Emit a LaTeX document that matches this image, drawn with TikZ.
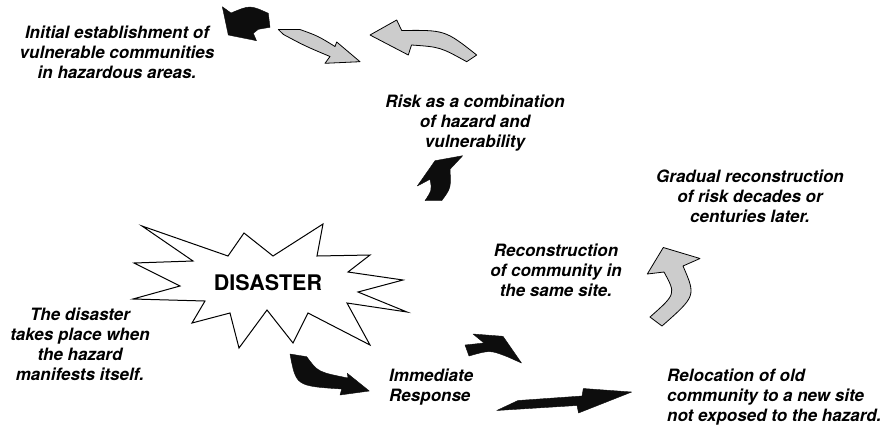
\documentclass[tikz,border=0pt]{standalone}
\usepackage{fontspec}
\setmainfont{TeX Gyre Heros}
\begin{document}
\begin{tikzpicture}[x=1pt,y=-1pt,
  lbl/.style={font=\fontsize{17}{20}\selectfont\bfseries\itshape, align=center, inner sep=0pt},
  lbll/.style={font=\fontsize{17}{20}\selectfont\bfseries\itshape, align=left, inner sep=0pt, anchor=west},
  garrow/.style={fill=black!20, draw=black, line width=0.8pt, line join=round},
  barrow/.style={fill=black!95, draw=black!95, line width=0.4pt, line join=round},
  star/.style={fill=white, draw=black, line width=1pt, line join=miter}]
\useasboundingbox (0,0) rectangle (891,429);

% starburst
\draw[star] (142,226) -- (228,256) -- (244,233) -- (273,256) -- (323,224) -- (317,256)
  -- (370,255) -- (348,272) -- (403,280) -- (358,292) -- (407,312) -- (347,303)
  -- (370,345) -- (308,313) -- (293,343) -- (267,310) -- (239,348) -- (230,313)
  -- (192,323) -- (205,301) -- (133,299) -- (180,286) -- (134,263) -- (193,261) -- cycle;
\node[font=\fontsize{21.5}{24}\selectfont\bfseries, inner sep=0pt] (dis) at (268,283) {DISASTER};

% text labels
\node[lbl] (init) at (117,52) {Initial establishment of\\vulnerable communities\\in hazardous areas.};
\node[lbl] (risk) at (475,123) {Risk as a combination\\of hazard and\\vulnerability};
\node[lbl] (grad) at (750,196) {Gradual reconstruction\\of risk decades or\\centuries later.};
\node[lbl] (recon) at (556,270) {Reconstruction\\of community in\\the same site.};
\node[lbl] (takes) at (80,344) {The disaster\\takes place when\\the hazard\\manifests itself.};
\node[lbll] (imm) at (389,387) {Immediate\\Response};
\node[lbll] (reloc) at (667,397) {Relocation of old\\community to a new site\\not exposed to the hazard.};

% black arrows
\fill[barrow] (222.3,6.7) -- (231,13) .. controls (250,5) .. (268.3,13.3) -- (270,27.3)
  -- (258.3,29.3) -- (253.3,33.3) -- (256.5,40.7) -- (228.3,35) -- cycle;
\fill[barrow] (435,160.7) -- (462.7,155.7) -- (450,169.3) .. controls (451,188) .. (441.7,200.7)
  -- (425,200.7) .. controls (432,190) .. (430,179.3) -- (417.3,186) -- cycle;
\fill[barrow] (290,354) -- (306.7,356.7) .. controls (318,372) .. (348,378) -- (347.3,373.3)
  -- (369.3,391) -- (340,395) -- (341.7,389) .. controls (296,386) .. (290,354) -- cycle;
\fill[barrow] (473,334) -- (503,336.3) -- (521.5,363) -- (508,357) .. controls (490,350) .. (469,356)
  -- (465,345) -- (484,343) -- cycle;
\fill[barrow] (496.7,410.5) -- (518,400.5) -- (582,396) -- (583.3,388.5) -- (631.7,392)
  -- (578.5,413) -- (577,405.5) -- cycle;

% gray arrows
\draw[garrow] (278.3,29.5) -- (300,29.5) .. controls (318,36) .. (335,46.5) -- (336.7,42)
  -- (360,61.7) -- (325,63.3) -- (330,56.5) .. controls (305,46) .. (283.5,34.5) -- cycle;
\draw[garrow] (370,35) -- (396.7,20) -- (401.7,30.5) .. controls (445,30) .. (476.7,55)
  -- (466.7,61.7) .. controls (440,47) .. (411.5,45) -- (408.3,55) -- cycle;
\draw[garrow] (663.3,247.5) -- (700,258.5) -- (683,266) .. controls (696,296) .. (662,326)
  -- (650,317) .. controls (676,294) .. (664,272) -- (647.3,274) -- cycle;
\end{tikzpicture}
\end{document}
